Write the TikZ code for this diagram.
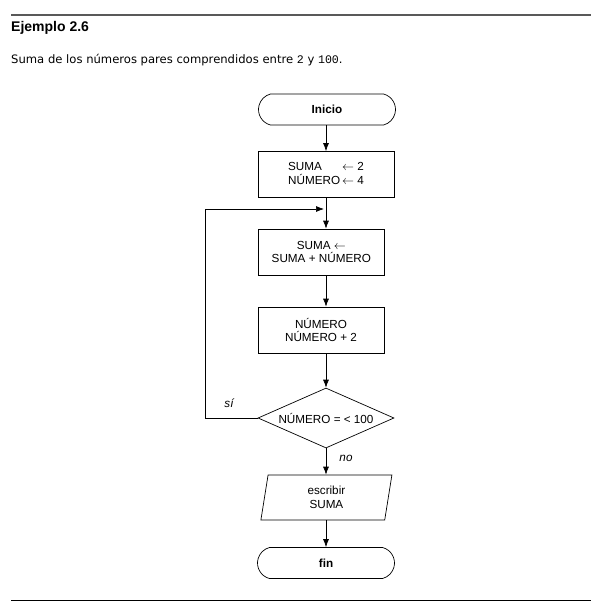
\documentclass[tikz,border=0pt]{standalone}
\usepackage{fontspec}
\setmainfont{Liberation Sans}
\setmonofont{Liberation Mono}
\newfontfamily\textofont{DejaVu Sans}
\usetikzlibrary{shapes.geometric,shapes.misc,arrows.meta}

\begin{document}
\begin{tikzpicture}[x=1pt, y=-1pt,
        letra/.style={font=\fontsize{11.7}{13.5}\selectfont},
        caja/.style={draw, line width=0.7pt, letra, align=center, inner sep=0pt, minimum height=46pt},
        terminal/.style={draw, line width=0.7pt, letra, rounded rectangle, rounded rectangle arc length=150, inner sep=0pt, minimum width=137pt, minimum height=31pt},
        decision/.style={draw, line width=0.7pt, letra, diamond, aspect=2.27, inner sep=0pt, minimum width=136pt, minimum height=60pt},
        salida/.style={draw, line width=0.7pt, letra, align=center, trapezium, trapezium left angle=72, trapezium right angle=108, trapezium stretches body, inner sep=0pt, minimum width=131pt, minimum height=45pt},
        flecha/.style={line width=0.7pt, -{Latex[length=8pt,width=6pt]}}]
    \useasboundingbox (0,0) rectangle (599,611);
    % reglas
    \draw[line width=2pt, black!65] (11,14.5) -- (590.7,14.5);
    \draw[line width=1.5pt] (11,600.5) -- (590.7,600.5);
    \node[anchor=base west, inner sep=0pt, font=\fontsize{14}{16}\selectfont\bfseries] (titulo) at (11,31.7) {Ejemplo 2.6};
    \node[anchor=base west, inner sep=0pt, font=\fontsize{11.6}{13}\selectfont] (enunciado) at (11,63.3) {\textofont Suma de los números pares comprendidos entre \texttt{2} y \texttt{100}.};
    % diagrama
    \node[terminal, font=\fontsize{11.7}{13.5}\selectfont\bfseries] (inicio) at (327,109.5) {Inicio};
    \node[caja, minimum width=136pt] (asigna) at (326,174.5) {\begin{tabular}{@{}l@{\,}l@{}}SUMA & $\leftarrow$ 2\\ NÚMERO & $\leftarrow$ 4\end{tabular}};
    \node[caja, minimum width=126pt] (acumula) at (321.3,252) {SUMA $\leftarrow$\\ SUMA + NÚMERO};
    \node[caja, minimum width=126pt] (incrementa) at (321,330) {NÚMERO\\ NÚMERO + 2};
    \node[decision] (pregunta) at (326,418) {NÚMERO = < 100};
    \node[salida] (escribe) at (326.4,497.5) {escribir\\ SUMA};
    \node[terminal, font=\fontsize{11.7}{13.5}\selectfont\bfseries] (fin) at (326,563) {fin};
    \coordinate (junta) at (326,209);
    \coordinate (vuelta) at (205,418);
    % conectores
    \draw[flecha] (inicio.south -| asigna.north) -- (asigna.north);
    \draw[flecha] (asigna.south) -- (asigna.south |- acumula.north);
    \draw[flecha] (asigna.south |- acumula.south) -- (asigna.south |- incrementa.north);
    \draw[flecha] (asigna.south |- incrementa.south) -- (pregunta.north);
    \draw[flecha] (pregunta.south) -- (pregunta.south |- escribe.north);
    \draw[flecha] (pregunta.south |- escribe.south) -- (fin.north);
    \draw[flecha, shorten >=2pt] (pregunta.west) -- (vuelta) |- (junta);
    \node[letra, font=\fontsize{11.7}{13.5}\selectfont\itshape] (si) at (229,403) {sí};
    \node[letra, font=\fontsize{11.7}{13.5}\selectfont\itshape] (no) at (346,458) {no};
\end{tikzpicture}
\end{document}
